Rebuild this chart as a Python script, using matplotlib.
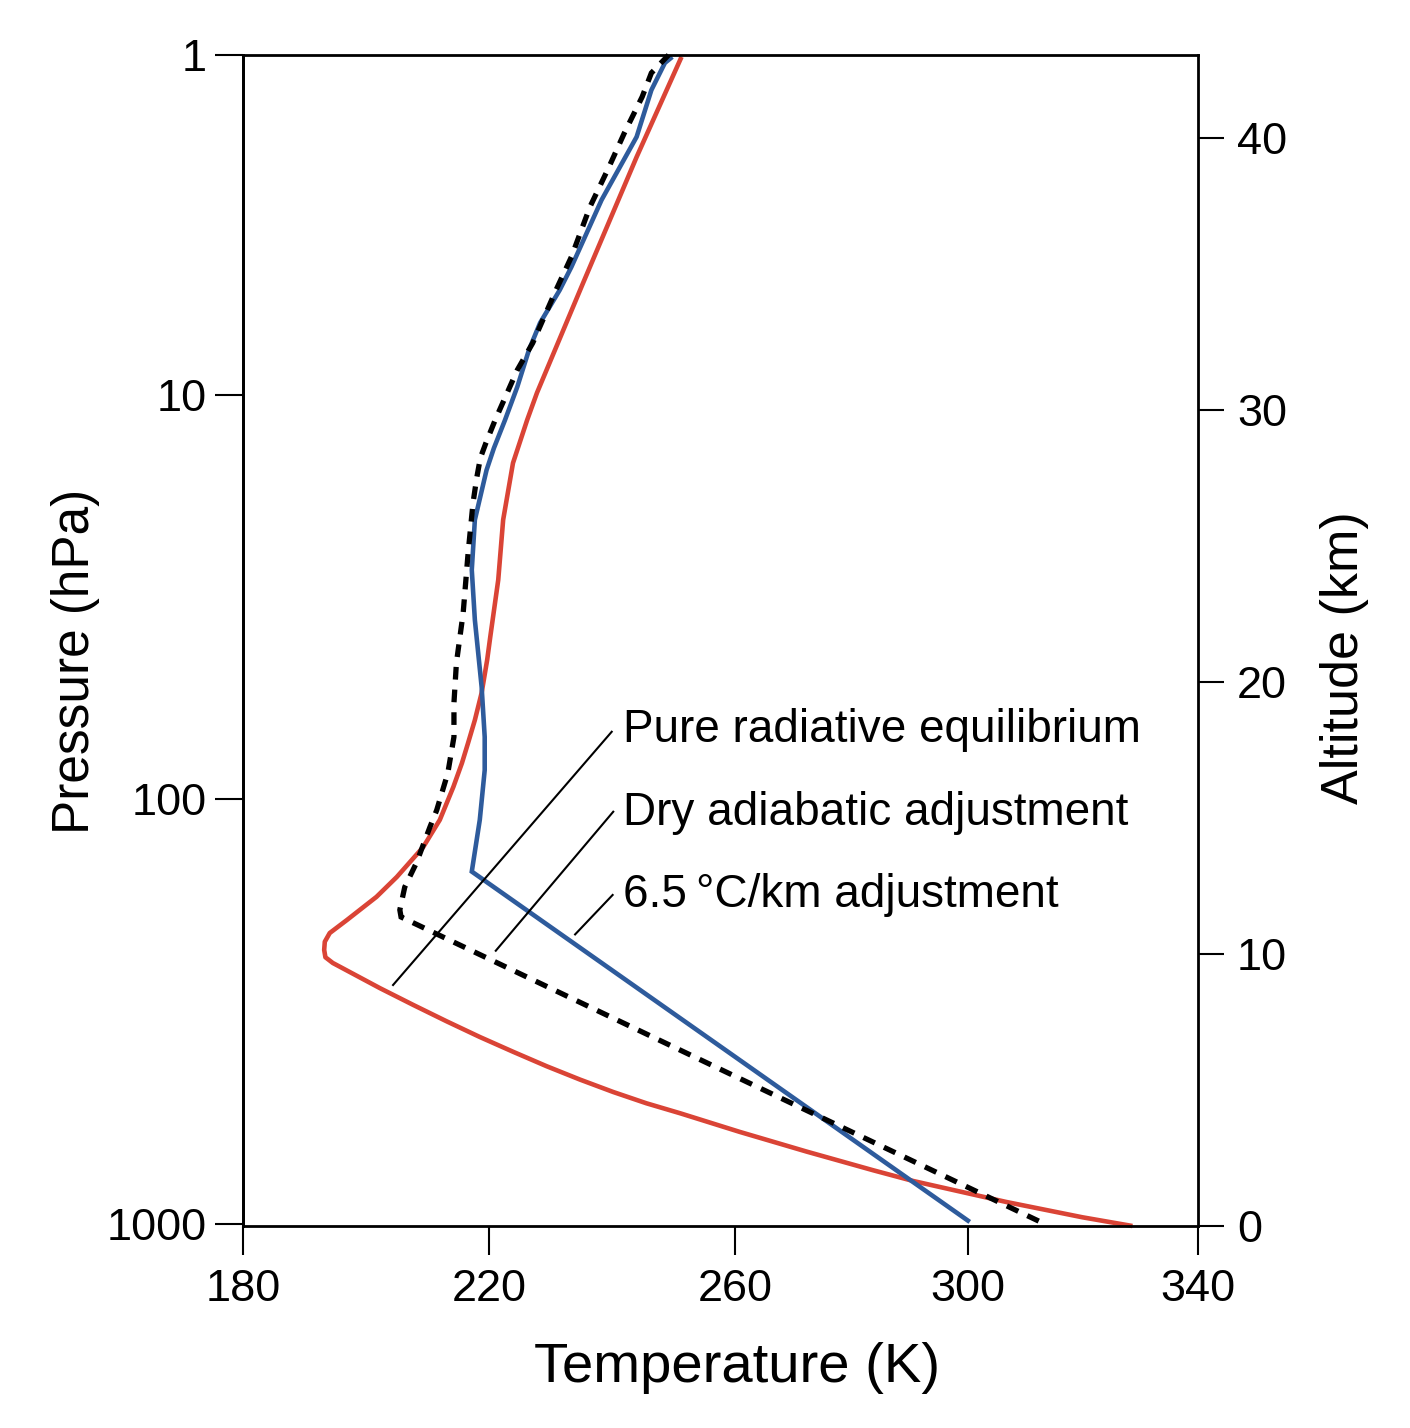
import numpy as np
import matplotlib
matplotlib.use("Agg")
import matplotlib.pyplot as plt

plt.rcParams['font.family'] = ['Liberation Sans', 'DejaVu Sans']

# ---------------- data (temperature in K, altitude in km) ----------------
rad_eq_alt = [0.0, 0.32, 0.886, 1.654, 2.05, 2.735, 3.46, 4.143, 4.511, 4.926, 5.382, 5.871,
              6.397, 6.949, 7.526, 8.125, 8.74, 9.67, 9.88, 10.15, 10.45, 10.77, 11.25, 12.10,
              12.83, 13.93, 14.45, 14.93, 16.14, 17.02, 17.76, 18.60, 19.60, 20.81, 21.65, 23.75,
              25.96, 28.05, 29.63, 30.63, 34.67, 39.30, 42.98]
rad_eq_temp = [328.6, 319.9, 306.6, 290.6, 283.7, 272.3, 260.8, 251.1, 245.6, 240.2, 234.8, 229.4,
               224.0, 218.5, 213.1, 207.7, 202.3, 194.6, 193.4, 193.2, 193.3, 194.1, 196.9, 201.7,
               205.0, 209.3, 210.7, 212.0, 214.2, 215.6, 216.6, 217.7, 218.8, 219.7, 220.2, 221.5,
               222.3, 223.9, 226.2, 227.8, 235.3, 244.0, 251.3]

lapse65_alt = [0.15, 13.03, 14.93, 16.76, 17.98, 19.82, 22.28, 24.12, 25.96, 27.79, 28.60, 29.63,
               30.85, 32.21, 33.20, 34.41, 35.26, 37.72, 40.04, 41.76, 42.76, 42.98]
lapse65_temp = [300.3, 217.2, 218.5, 219.3, 219.3, 218.8, 217.7, 217.2, 217.7, 219.6, 220.8, 222.6,
                224.6, 226.5, 228.3, 231.5, 233.4, 238.3, 244.0, 246.4, 248.6, 249.8]

dry_alt = [0.18, 11.36, 11.62, 12.46, 13.35, 14.67, 15.29, 16.65, 17.98, 19.23, 20.70, 22.54, 24.74,
           26.58, 27.50, 28.24, 28.79, 29.63, 31.47, 32.46, 34.41, 35.63, 37.46, 38.93, 40.18, 41.51,
           42.39, 43.05]
dry_temp = [312.3, 205.7, 205.5, 206.3, 208.2, 210.4, 211.5, 213.3, 214.3, 214.3, 214.7, 215.8, 216.6,
            217.4, 218.0, 218.6, 219.5, 221.0, 224.6, 227.1, 230.9, 233.4, 236.4, 239.5, 242.0, 244.9,
            246.4, 249.2]

labels = ["Pure radiative equilibrium", "Dry adiabatic adjustment", "6.5\u2009\u00b0C/km adjustment"]
label_temp = 241.8
label_alt = [17.81, 14.74, 11.73]
leader_from = [(239.95, 18.17), (240.2, 15.23), (240.1, 12.17)]
leader_to = [(204.4, 8.86), (221.1, 10.12), (234.0, 10.72)]

temp_ticks = [180, 220, 260, 300, 340]
temp_tick_frac = [0.0, 0.2576, 0.5152, 0.7592, 1.0]   # printed temperature scale is not uniform
alt_ticks = [0, 10, 20, 30, 40]
alt_top = 43.05
pres_ticks = [1, 10, 100, 1000]
pres_tick_alt = [43.05, 30.55, 15.70, 0.07]            # altitude of the printed pressure levels

red = '#DA4436'
blue = '#2E5B9C'


def _pw(x, xp, fp):
    x = np.asarray(x, dtype=float)
    xp = np.asarray(xp, dtype=float)
    fp = np.asarray(fp, dtype=float)
    y = np.interp(x, xp, fp)
    lo_s = (fp[1] - fp[0]) / (xp[1] - xp[0])
    hi_s = (fp[-1] - fp[-2]) / (xp[-1] - xp[-2])
    y = np.where(x < xp[0], fp[0] + (x - xp[0]) * lo_s, y)
    y = np.where(x > xp[-1], fp[-1] + (x - xp[-1]) * hi_s, y)
    return y


def t_fwd(t):
    return _pw(t, temp_ticks, temp_tick_frac)


def t_inv(u):
    return _pw(u, temp_tick_frac, temp_ticks)


_logp = np.log10(pres_ticks)  # [0,1,2,3]


def alt_to_p(z):
    return 10 ** _pw(z, pres_tick_alt[::-1], _logp[::-1])


def p_to_alt(p):
    p = np.clip(np.asarray(p, dtype=float), 1e-6, None)
    return _pw(np.log10(p), _logp, pres_tick_alt)


fig = plt.figure(figsize=(14.1, 14.28), dpi=100)
ax = fig.add_axes([243 / 1410, 1 - 1226 / 1428, 955 / 1410, 1171 / 1428])

ax.set_xscale('function', functions=(t_fwd, t_inv))
ax.set_xlim(180, 340)
ax.set_ylim(0, alt_top)

ax.plot(rad_eq_temp, rad_eq_alt, color=red, lw=3.3, clip_on=False, solid_capstyle='butt')
ax.plot(lapse65_temp, lapse65_alt, color=blue, lw=3.3, clip_on=False, solid_capstyle='butt',
        solid_joinstyle='miter')
ax.plot(dry_temp, dry_alt, color='black', lw=3.8, clip_on=False, dashes=(2.4, 1.9),
        dash_capstyle='butt', dash_joinstyle='miter')

for (x0, y0), (x1, y1) in zip(leader_from, leader_to):
    ax.plot([x0, x1], [y0, y1], color='black', lw=1.5)
for lab, ya in zip(labels, label_alt):
    ax.text(label_temp, ya, lab, fontsize=33, ha='left', va='baseline')

for s in ax.spines.values():
    s.set_linewidth(2.0)

ax.set_xticks(temp_ticks)
ax.set_xticklabels([str(t) for t in temp_ticks])
ax.tick_params(axis='x', direction='out', length=21, width=1.5, labelsize=32.5, pad=10)

ax.yaxis.tick_right()
ax.set_yticks(alt_ticks)
ax.set_yticklabels([str(a) for a in alt_ticks])
ax.tick_params(axis='y', direction='out', length=19, width=1.5, labelsize=32.5, pad=9,
               left=False, right=True, labelleft=False, labelright=True)
ax.yaxis.set_label_position('right')
ax.set_ylabel("Altitude (km)", fontsize=37.5, va='baseline')
ax.yaxis.set_label_coords(1.1675, 0.4855)

ax.set_xlabel("Temperature (K)", fontsize=40.5, va='baseline')
ax.xaxis.set_label_coords(0.517, -0.1332)

sec = ax.secondary_yaxis('left', functions=(alt_to_p, p_to_alt))
sec.set_yticks(pres_ticks)
sec.set_yticklabels([str(p) for p in pres_ticks])
sec.tick_params(axis='y', direction='out', length=20, width=1.5, labelsize=32.5, pad=6)
sec.spines['left'].set_linewidth(2.0)
sec.set_ylabel("Pressure (hPa)", fontsize=37, va='baseline')
sec.yaxis.set_label_coords(-0.1613, 0.482, transform=ax.transAxes)

fig.savefig("out.png", dpi=100)
